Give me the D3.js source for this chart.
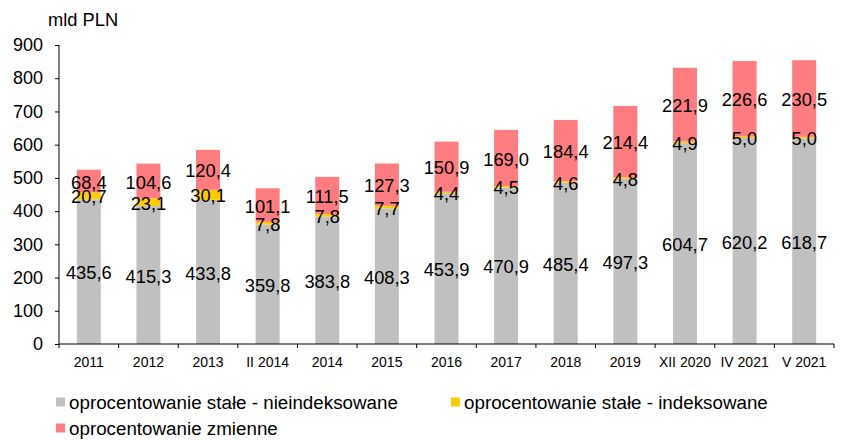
<!DOCTYPE html>
<html><head><meta charset="utf-8">
<script src="https://cdn.jsdelivr.net/npm/d3@7"></script>
<style>body{margin:0;background:#fff}svg{display:block;font-family:"Liberation Sans",Arial,sans-serif}</style>
</head><body><svg id="c" width="852" height="440"></svg>
<script>
const categories = ["2011","2012","2013","II 2014","2014","2015","2016","2017","2018","2019","XII 2020","IV 2021","V 2021"];
const fixedNonIndexed = [435.6,415.3,433.8,359.8,383.8,408.3,453.9,470.9,485.4,497.3,604.7,620.2,618.7];
const fixedIndexed = [20.7,23.1,30.1,7.8,7.8,7.7,4.4,4.5,4.6,4.8,4.9,5.0,5.0];
const variable = [68.4,104.6,120.4,101.1,111.5,127.3,150.9,169.0,184.4,214.4,221.9,226.6,230.5];
const yTicks = [0,100,200,300,400,500,600,700,800,900];
const seriesNames = ["oprocentowanie stałe - nieindeksowane","oprocentowanie stałe - indeksowane","oprocentowanie zmienne"];
const colors = ["#C0C0C0","#FFCC00","#FF7C80"];

const svg = d3.select("#c");
const L = 59, R = 834, T = 45, B = 344;
const xb = d3.scaleBand().domain(categories).range([L, R]);
const y = d3.scaleLinear().domain([0, 900]).range([B, T]);

const rows = categories.map((c, i) => ({cat: c, s0: fixedNonIndexed[i], s1: fixedIndexed[i], s2: variable[i]}));
const stack = d3.stack().keys(["s0","s1","s2"])(rows);
const fmt = v => v.toFixed(1).replace(".", ",");

stack.forEach((layer, li) => {
  svg.append("g").selectAll("rect").data(layer).join("rect")
    .attr("x", d => xb(d.data.cat) + xb.bandwidth()/2 - 12)
    .attr("width", 24)
    .attr("y", d => y(d[1]))
    .attr("height", d => y(d[0]) - y(d[1]))
    .attr("fill", colors[li]);
});
stack.forEach((layer, li) => {
  svg.append("g").selectAll("text").data(layer).join("text")
    .attr("x", d => xb(d.data.cat) + xb.bandwidth()/2)
    .attr("y", d => y((d[0] + d[1]) / 2) + 1)
    .attr("dy", "0.36em")
    .attr("text-anchor", "middle")
    .attr("font-size", 18.3)
    .attr("fill", "#000")
    .text(d => fmt(d[1] - d[0]));
});

// y axis
const yAxis = d3.axisLeft(y).tickValues(yTicks).tickSize(4).tickPadding(12).tickFormat(d3.format("d"));
const gy = svg.append("g").attr("transform", `translate(${L},0)`).call(yAxis);
gy.select(".domain").attr("d", `M0,${T}V${B}`).attr("stroke", "#000");
gy.selectAll(".tick line").attr("stroke", "#000");
gy.selectAll(".tick text").attr("font-size", 18).attr("font-family", "Liberation Sans, Arial, sans-serif").attr("fill", "#000");

// x axis
const gx = svg.append("g").attr("transform", `translate(0,${B})`);
gx.append("line").attr("x1", L).attr("x2", R).attr("stroke", "#000");
gx.selectAll("line.t").data(categories.concat(["end"])).join("line").attr("class","t")
  .attr("x1", (d,i) => L + i * xb.step()).attr("x2", (d,i) => L + i * xb.step())
  .attr("y1", 0).attr("y2", 4).attr("stroke", "#000");
gx.selectAll("text").data(categories).join("text")
  .attr("x", d => xb(d) + xb.bandwidth()/2)
  .attr("y", 18).attr("dy", "0.36em")
  .attr("text-anchor", "middle").attr("font-size", 14).text(d => d);

svg.append("text").attr("x", 48).attr("y", 26).attr("font-size", 18.3).text("mld PLN");

// legend
const leg = [{i:0, x:56, y:402},{i:1, x:451, y:402},{i:2, x:56, y:428}];
leg.forEach(l => {
  svg.append("rect").attr("x", l.x).attr("y", l.y - 4.5).attr("width", 9).attr("height", 9).attr("fill", colors[l.i]);
  svg.append("text").attr("x", l.x + 13).attr("y", l.y).attr("dy", "0.36em").attr("font-size", 18.8).text(seriesNames[l.i]);
});
</script></body></html>
